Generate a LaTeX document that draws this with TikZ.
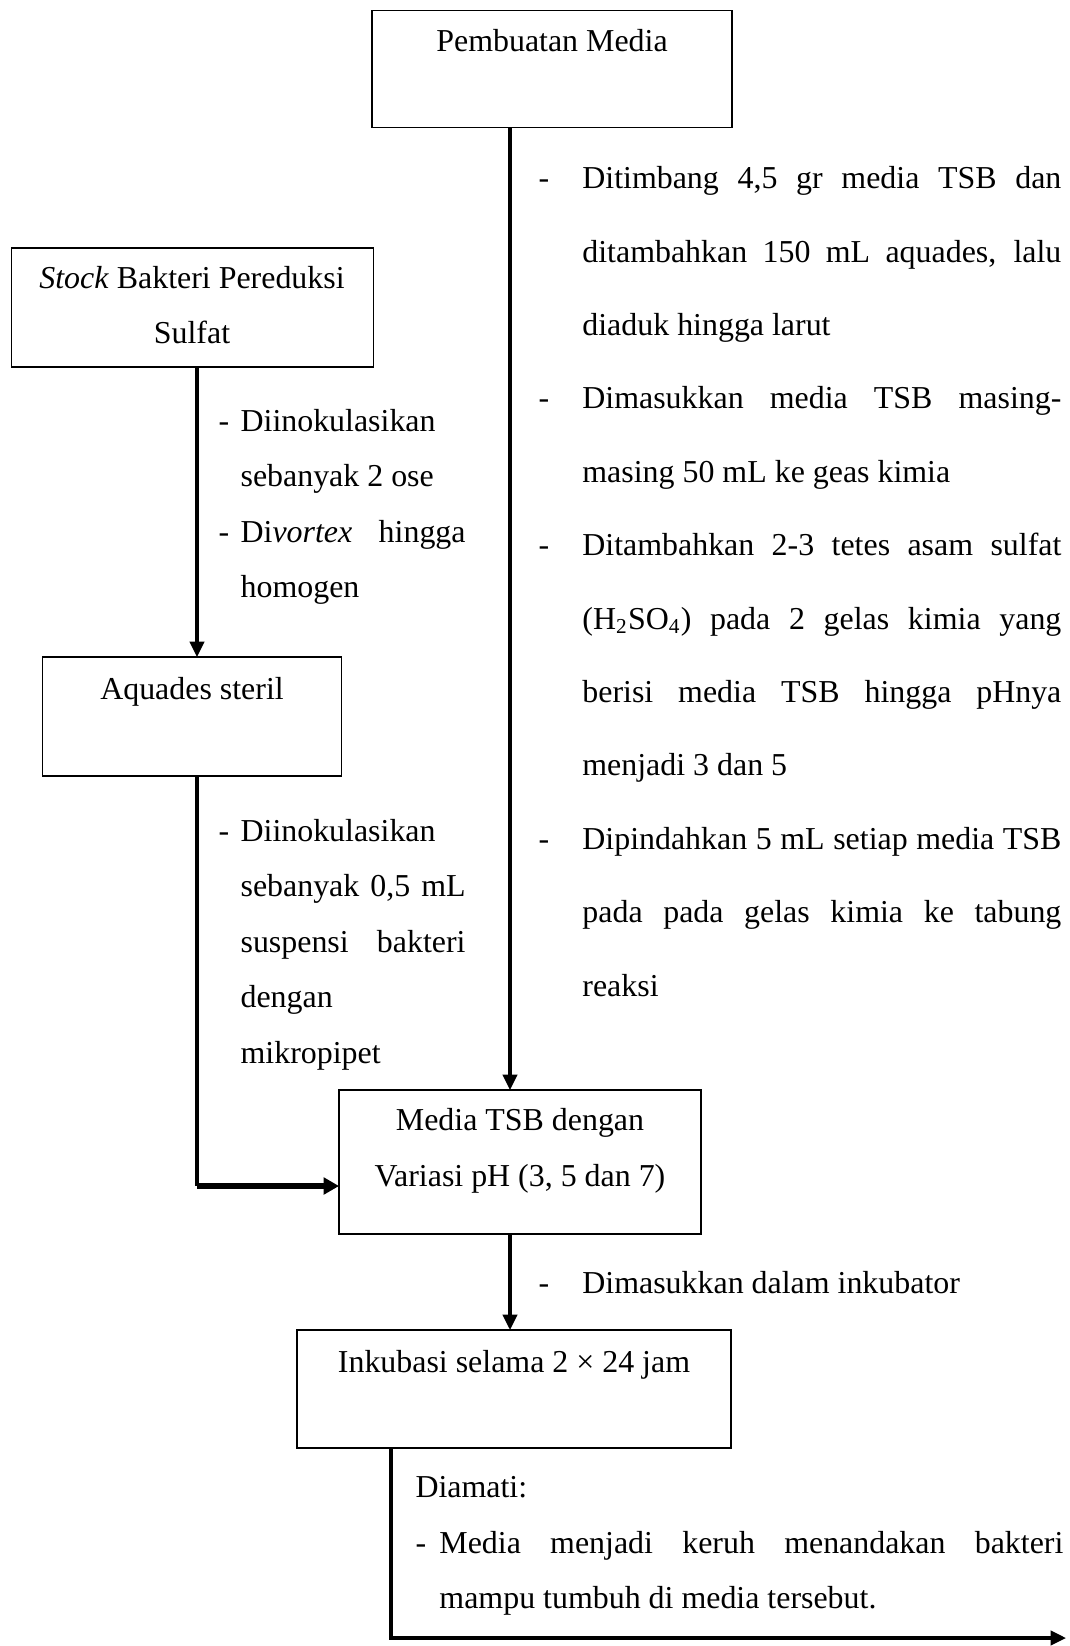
\documentclass[tikz,border=0pt]{standalone}
\usepackage{fontspec}
\setmainfont{Liberation Serif}
\usetikzlibrary{arrows.meta}

\newcommand{\st}{\rule{0pt}{10pt}}
\newcommand{\itm}[2]{\hangindent=#1\hangafter=1\noindent\makebox[#1][l]{\st-}#2\par}

\begin{document}
\begin{tikzpicture}[
    x=0.376pt, y=-0.376pt,
    box/.style = {draw, rectangle, line width=0.45pt, inner sep=0pt, outer sep=0pt},
    lbl/.style = {anchor=north, align=center, inner sep=0pt,
                  font=\fontsize{12}{20.7}\selectfont},
    note/.style = {anchor=north west, align=justify, inner sep=0pt,
                   font=\fontsize{12}{20.9}\selectfont},
    widenote/.style = {note, text width=196.6pt,
                       font=\fontsize{12}{27.6}\selectfont},
    arrow/.style = {-{Triangle[length=5.8pt, width=5.4pt]}, line width=1.2pt}
]
\useasboundingbox (0,0) rectangle (1070,1646);

% boxes
\node[box, minimum width=135.4pt, minimum height=44.2pt] (pm) at (552,69) {};
\node[box, minimum width=136.1pt, minimum height=44.7pt] (stock) at (192.7,307.5) {};
\node[box, minimum width=112.4pt, minimum height=44.7pt] (aq) at (192,716.5) {};
\node[box, minimum width=136.1pt, minimum height=54.1pt] (tsb) at (520,1162) {};
\node[box, minimum width=163.2pt, minimum height=44.4pt] (ink) at (514,1389) {};

% box texts
\node[lbl] (pmtxt) at (552,24.5) {\st Pembuatan Media};
\node[lbl] (stocktxt) at (192,261.5) {\st\textit{Stock} Bakteri Pereduksi\\Sulfat};
\node[lbl] (aqtxt) at (192,672.5) {\st Aquades steril};
\node[lbl, font=\fontsize{12}{21}\selectfont] (tsbtxt) at (520,1103.5) {\st Media TSB dengan\\Variasi pH (3, 5 dan 7)};
\node[lbl] (inktxt) at (514,1345.5) {\st Inkubasi selama 2 × 24 jam};

% connectors
\coordinate (mx) at (510,0);
\coordinate (lx) at (197,0);
\coordinate (bx) at (391,0);
\coordinate (jn) at (197,1186);
\coordinate (out) at (1066,1638);

\draw[arrow] (pm.south -| mx) -- (tsb.north -| mx);
\draw[arrow] (stock.south -| lx) -- (aq.north -| lx);
\draw[line width=1.2pt] (aq.south -| lx) -- (jn);
\draw[arrow, line width=2pt, -{Triangle[length=5.8pt, width=6.2pt]}] (jn) -- (tsb.west |- jn);
\draw[arrow] (tsb.south -| mx) -- (ink.north -| mx);
\draw[arrow] (ink.south -| bx) |- (out);

% step notes
\node[widenote] (mediasteps) at (538,161.5) {%
  \itm{16.5pt}{Ditimbang 4,5 gr media TSB dan\linebreak ditambahkan 150 mL aquades, lalu\linebreak diaduk hingga larut}%
  \itm{16.5pt}{Dimasukkan media TSB masing-\linebreak masing 50 mL ke geas kimia}%
  \itm{16.5pt}{Ditambahkan 2-3 tetes asam sulfat\linebreak (H\textsubscript{2}SO\textsubscript{4}) pada 2 gelas kimia yang\linebreak berisi media TSB hingga pHnya\linebreak menjadi 3 dan 5}%
  \itm{16.5pt}{Dipindahkan 5 mL setiap media TSB\linebreak pada pada gelas kimia ke tabung\linebreak reaksi}};

\node[note, text width=92.9pt] (stocksteps) at (218,404) {%
  \itm{8.3pt}{Diinokulasikan sebanyak 2 ose}%
  \itm{8.3pt}{Di\textit{vortex} hingga\linebreak homogen}};

\node[note, text width=92.9pt] (aqsteps) at (218,814) {%
  \itm{8.3pt}{Diinokulasikan\newline sebanyak 0,5 mL\linebreak suspensi bakteri\linebreak dengan\newline mikropipet}};

\node[widenote] (tsbsteps) at (538,1266) {%
  \itm{16.5pt}{Dimasukkan dalam inkubator}};

\node[note, text width=243.6pt] (inksteps) at (415,1470.5) {%
  \noindent\st Diamati:\par
  \itm{9pt}{Media menjadi keruh menandakan bakteri\linebreak mampu tumbuh di media tersebut.}};

\end{tikzpicture}
\end{document}
